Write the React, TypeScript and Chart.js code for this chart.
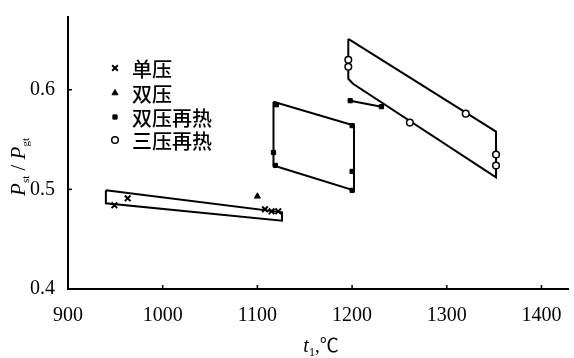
import React, { useEffect, useRef } from 'react';
import { Chart, registerables } from 'chart.js';
import { drawPoint } from 'chart.js/helpers';

Chart.register(...registerables);

// ---- axis ticks ----
const xTicks = [900, 1000, 1100, 1200, 1300, 1400];
const yTicks = [0.4, 0.5, 0.6];
const xMin = 900;
const xMax = 1428;
const yMin = 0.4;
const yMax = 0.673;

// ---- legend ----
const seriesNames = ['单压', '双压', '双压再热', '三压再热'];

// ---- data points ----
// 单压 (single pressure)
const singleX = [949, 963, 1108, 1115, 1122];
const singleY = [0.484, 0.491, 0.480, 0.478, 0.478];
// 双压 (dual pressure)
const dualX = [1100];
const dualY = [0.493];
// 双压再热 (dual pressure reheat)
const dualReheatX = [1120, 1200, 1117, 1119, 1200, 1200];
const dualReheatY = [0.585, 0.564, 0.537, 0.524, 0.518, 0.499];
const dualReheatLineX = [1198, 1231];
const dualReheatLineY = [0.589, 0.583];
// 三压再热 (triple pressure reheat)
const tripleX = [1196, 1196, 1261, 1320, 1352, 1352];
const tripleY = [0.630, 0.623, 0.567, 0.576, 0.535, 0.524];

// ---- band outlines (closed polygons) ----
const band1X = [940, 1126, 1126, 940, 940];
const band1Y = [0.499, 0.477, 0.4685, 0.486, 0.499];
const band2X = [1117, 1202, 1202, 1117, 1117];
const band2Y = [0.588, 0.564, 0.499, 0.524, 0.588];
const band3X = [1196, 1352, 1352, 1201, 1196, 1196];
const band3Y = [0.651, 0.558, 0.512, 0.606, 0.611, 0.651];

const zip = (xs: number[], ys: number[]) => xs.map((x, i) => ({ x, y: ys[i] }));

const SERIF = "'Liberation Serif', 'Noto Sans CJK SC', serif";
const CJK = "'Noto Sans CJK SC', sans-serif";

const markerStyles = [
  { pointStyle: 'crossRot', radius: 4, borderWidth: 2, bg: '#000' },
  { pointStyle: 'triangle', radius: 3.5, borderWidth: 1, bg: '#000' },
  { pointStyle: 'rect', radius: 3, borderWidth: 1, bg: '#000' },
  { pointStyle: 'circle', radius: 3.3, borderWidth: 1.5, bg: '#fff' },
];

const decorPlugin = {
  id: 'decor',
  afterDraw(chart: any) {
    const ctx = chart.ctx as CanvasRenderingContext2D;
    const xs = chart.scales.x;
    const ys = chart.scales.y;
    const area = chart.chartArea;
    ctx.save();
    ctx.strokeStyle = '#000';
    ctx.fillStyle = '#000';
    // inward tick marks
    ctx.lineWidth = 1.5;
    xTicks.forEach((v) => {
      const px = xs.getPixelForValue(v);
      ctx.beginPath();
      ctx.moveTo(px, area.bottom);
      ctx.lineTo(px, area.bottom - 4);
      ctx.stroke();
    });
    yTicks.forEach((v) => {
      const py = ys.getPixelForValue(v);
      ctx.beginPath();
      ctx.moveTo(area.left, py);
      ctx.lineTo(area.left + 4, py);
      ctx.stroke();
    });

    // legend
    const lx = area.left + 47;
    const tx = area.left + 64;
    const rows = [68, 93, 117, 140];
    seriesNames.forEach((name, i) => {
      const m = markerStyles[i];
      ctx.fillStyle = m.bg;
      ctx.strokeStyle = '#000';
      ctx.lineWidth = m.borderWidth;
      drawPoint(ctx, { pointStyle: m.pointStyle as any, radius: m.radius, rotation: 0, borderWidth: m.borderWidth }, lx, rows[i]);
      ctx.fillStyle = '#000';
      ctx.font = `500 20px ${CJK}`;
      ctx.textAlign = 'left';
      ctx.textBaseline = 'middle';
      ctx.fillText(name, tx, rows[i] + 1);
    });

    // rich text helper
    const drawRich = (segs: { t: string; font: string; dy: number }[], cx: number, cy: number) => {
      let w = 0;
      segs.forEach((s) => { ctx.font = s.font; w += ctx.measureText(s.t).width; });
      let x = cx - w / 2;
      ctx.textAlign = 'left';
      ctx.textBaseline = 'alphabetic';
      segs.forEach((s) => {
        ctx.font = s.font;
        ctx.fillText(s.t, x, cy + s.dy);
        x += ctx.measureText(s.t).width;
      });
    };

    ctx.fillStyle = '#000';
    // x title
    drawRich(
      [
        { t: 't', font: `italic 20px ${SERIF}`, dy: 0 },
        { t: '1', font: `12px ${SERIF}`, dy: 4 },
        { t: ',℃', font: `19px ${SERIF}`, dy: 0 },
      ],
      (area.left + area.right) / 2 + 3,
      352
    );
    // y title (rotated)
    ctx.save();
    ctx.translate(25, (area.top + area.bottom) / 2 + 14);
    ctx.rotate(-Math.PI / 2);
    drawRich(
      [
        { t: 'P', font: `italic 21px ${SERIF}`, dy: 0 },
        { t: 'st', font: `11px ${SERIF}`, dy: 4 },
        { t: ' / ', font: `21px ${SERIF}`, dy: 0 },
        { t: 'P', font: `italic 21px ${SERIF}`, dy: 0 },
        { t: 'gt', font: `11px ${SERIF}`, dy: 4 },
      ],
      0,
      0
    );
    ctx.restore();
    ctx.restore();
  },
};

export default function App() {
  const ref = useRef<HTMLCanvasElement>(null);
  useEffect(() => {
    const lineDs = (xs: number[], ys: number[]) => ({
      data: zip(xs, ys),
      showLine: true,
      fill: false,
      borderColor: '#000',
      borderWidth: 2,
      pointRadius: 0,
      tension: 0,
    });
    const markDs = (xs: number[], ys: number[], i: number) => ({
      data: zip(xs, ys),
      showLine: false,
      pointStyle: markerStyles[i].pointStyle,
      pointRadius: markerStyles[i].radius,
      pointBorderWidth: markerStyles[i].borderWidth,
      pointBackgroundColor: markerStyles[i].bg,
      pointBorderColor: '#000',
      backgroundColor: markerStyles[i].bg,
      borderColor: '#000',
    });
    const chart = new Chart(ref.current!, {
      type: 'scatter',
      data: {
        datasets: [
          markDs(singleX, singleY, 0),
          markDs(dualX, dualY, 1),
          markDs(dualReheatX, dualReheatY, 2),
          markDs(dualReheatLineX, dualReheatLineY, 2),
          markDs(tripleX, tripleY, 3),
          lineDs(dualReheatLineX, dualReheatLineY),
          lineDs(band1X, band1Y),
          lineDs(band2X, band2Y),
          lineDs(band3X, band3Y),
        ] as any,
      },
      options: {
        responsive: false,
        animation: false,
        devicePixelRatio: 1,
        layout: { padding: { top: 12, right: 3, left: 0, bottom: 0 } },
        plugins: { legend: { display: false }, tooltip: { enabled: false } },
        scales: {
          x: {
            type: 'linear',
            min: xMin,
            max: xMax,
            afterBuildTicks: (s: any) => { s.ticks = xTicks.map((v) => ({ value: v })); },
            afterFit: (s: any) => { s.height = 69; },
            grid: { display: false },
            border: { display: true, color: '#000', width: 2 },
            ticks: {
              color: '#000',
              padding: 7,
              maxRotation: 0,
              autoSkip: false,
              font: { family: SERIF, size: 20 },
              callback: (v: any) => String(v),
            },
          },
          y: {
            type: 'linear',
            min: yMin,
            max: yMax,
            afterBuildTicks: (s: any) => { s.ticks = yTicks.map((v) => ({ value: v })); },
            afterFit: (s: any) => { s.width = 68; },
            grid: { display: false },
            border: { display: true, color: '#000', width: 2 },
            ticks: {
              color: '#000',
              padding: 5,
              autoSkip: false,
              font: { family: SERIF, size: 20 },
              callback: (v: any) => Number(v).toFixed(1),
            },
          },
        },
      },
      plugins: [decorPlugin],
    });
    return () => chart.destroy();
  }, []);
  return (
    <div style={{ position: 'absolute', left: 0, top: 0, width: 574, height: 358, background: '#fff' }}>
      <canvas ref={ref} width={574} height={358} style={{ display: 'block' }} />
    </div>
  );
}
